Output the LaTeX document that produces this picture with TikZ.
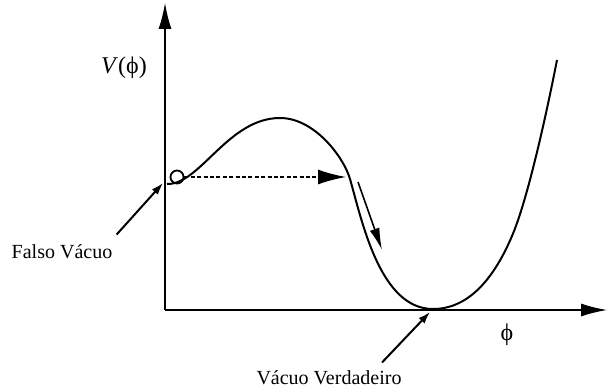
\documentclass[tikz,border=0pt]{standalone}
\usepackage{fontspec}
\setmainfont{Liberation Serif}
\usetikzlibrary{arrows.meta,positioning}

\begin{document}
\begin{tikzpicture}[
  x=0.5pt, y=0.5pt,
  axis/.style={
    -{Latex[length=13pt,width=6.5pt]},
    line width=0.7pt
  },
  potential/.style={
    line width=1pt
  },
  pointer/.style={
    -{Latex[length=6pt,width=4pt]},
    line width=1pt
  },
  roll/.style={
    -{Latex[length=14pt,width=7.5pt]},
    line width=0.8pt
  },
  label/.style={
    inner sep=1pt,
    font=\normalsize
  }
]
\useasboundingbox (0,0) rectangle (608,391);

% Axes
\coordinate (o) at (165,81);
\coordinate (ytop) at (165,388);
\coordinate (xend) at (607,81);
\draw[axis] (o) -- (ytop);
\draw[axis] (o) -- (xend);

% Potential
\draw[potential] (167,207) .. controls (200,206) and (228,273) .. (280,273)
  .. controls (315,273) and (344,233) .. (350,212)
  .. controls (362,170) and (380,82) .. (433,82)
  .. controls (470,82) and (495,115) .. (512,155)
  .. controls (527,190) and (545,270) .. (557,331);

% Ball in the false vacuum
\node[draw, circle, line width=0.9pt, minimum size=6.5pt, inner sep=0pt] (ball) at (177,214) {};
\coordinate (hop) at (346,214);
\draw[roll, dash pattern=on 2pt off 1.2pt] (ball.east) -- (hop);

% Rolling down
\coordinate (rs) at (358,209);
\coordinate (re) at (382,141);
\draw[roll, -{Latex[length=11pt,width=5pt]}] (rs) -- (re);

% Labels
\node[label, font=\large] (vphi) at (124,323) {\textit{V}(ϕ)};
\node[label, font=\large] (phi) at (507,56) {ϕ};
\node[label] (falso) at (62,139) {Falso Vácuo};
\node[label] (verdadeiro) at (329,13) {Vácuo Verdadeiro};

\coordinate (fv) at (163,208);
\coordinate (tv) at (430,79);
\draw[pointer] (falso.north east) ++(2,8) -- (fv);
\draw[pointer] (verdadeiro.north) ++(53,6) -- (tv);

\end{tikzpicture}
\end{document}
